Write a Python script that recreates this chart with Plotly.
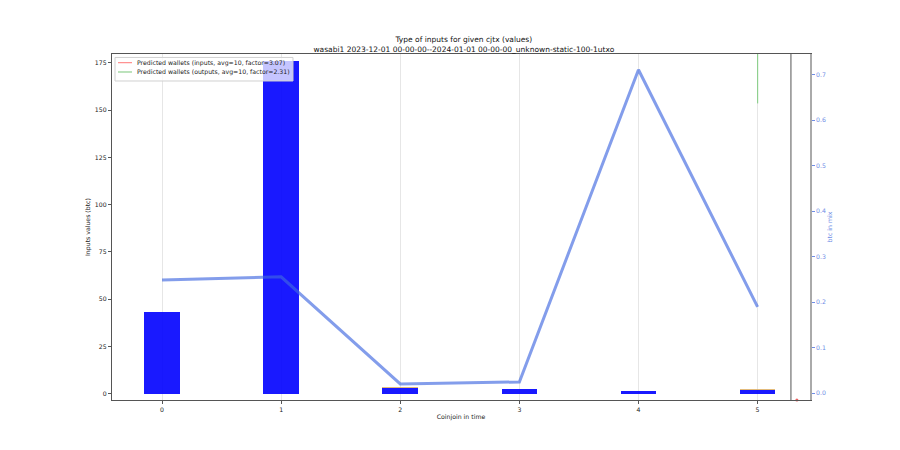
import plotly.graph_objects as go

# coinjoin index along x
coinjoins = [0, 1, 2, 3, 4, 5]
inputs_main = [43.4, 176.0, 3.2, 2.8, 1.8, 2.0]
inputs_other = [0.0, 0.0, 0.3, 0.0, 0.0, 0.6]
btc_in_mix = [0.249, 0.256, 0.0205, 0.025, 0.711, 0.190]

green_x = [5, 5]
green_y = [153.5, 182.0]
marker_x = [5.33]
marker_y = [-3.2]
boundary_x = 5.28

title_lines = ["Type of inputs for given cjtx (values)",
               "wasabi1 2023-12-01 00-00-00--2024-01-01 00-00-00_unknown-static-100-1utxo"]
legend_names = ["Predicted wallets (inputs, avg=10, factor=3.07)",
                "Predicted wallets (outputs, avg=10, factor=2.31)"]
legend_colors = ['rgba(255,0,0,0.45)', '#8fd08f']

fig = go.Figure()
fig.add_trace(go.Bar(x=coinjoins, y=inputs_main, width=0.3,
                     marker=dict(color='rgba(0,0,255,0.9)', line=dict(width=0)),
                     showlegend=False))
fig.add_trace(go.Bar(x=coinjoins, y=inputs_other, width=0.3,
                     marker=dict(color='rgba(220,170,90,0.8)', line=dict(width=0)),
                     showlegend=False))
fig.add_trace(go.Scatter(x=green_x, y=green_y, mode='lines', showlegend=False,
                         line=dict(color=legend_colors[1], width=1.2)))
fig.add_trace(go.Scatter(x=marker_x, y=marker_y, mode='markers', showlegend=False,
                         cliponaxis=False,
                         marker=dict(color='rgba(230,60,60,0.8)', size=3)))
fig.add_trace(go.Scatter(x=coinjoins, y=btc_in_mix, mode='lines', yaxis='y2',
                         showlegend=False,
                         line=dict(color='rgba(65,105,225,0.65)', width=3)))

fig.add_shape(type='line', xref='x', yref='paper', x0=boundary_x, x1=boundary_x,
              y0=0, y1=1, line=dict(color='#555555', width=1))

# legend box drawn by hand (matplotlib style, upper left)
fig.add_shape(type='rect', xref='paper', yref='paper', x0=0.0043, x1=0.2593,
              y0=0.922, y1=0.99, fillcolor='rgba(255,255,255,0.75)',
              line=dict(color='#d0d0d0', width=1))
for i, (name, col) in enumerate(zip(legend_names, legend_colors)):
    ly = 0.975 - i * 0.027
    fig.add_shape(type='line', xref='paper', yref='paper', x0=0.0086, x1=0.0287,
                  y0=ly, y1=ly, line=dict(color=col, width=1.2))
    fig.add_annotation(xref='paper', yref='paper', x=0.033, y=ly, text=name,
                       showarrow=False, xanchor='left', yanchor='middle',
                       font=dict(size=6.2, color='#222222'))

fig.update_layout(
    width=900, height=450,
    barmode='stack',
    margin=dict(l=104, r=98, t=46, b=58),
    plot_bgcolor='#ffffff',
    paper_bgcolor='#ffffff',
    font=dict(family='DejaVu Sans', size=6.2, color='#222222'),
    title=dict(text='<br>'.join(title_lines), x=0.5065, xanchor='center',
               y=0.925, yanchor='top', font=dict(size=7.5, color='#111111')),
    xaxis=dict(
        range=[-0.42, 5.44],
        tickmode='array', tickvals=coinjoins,
        showgrid=True, gridcolor='#e6e6e6', gridwidth=1,
        showline=True, linecolor='#555555', linewidth=1.2, mirror=True,
        ticks='outside', ticklen=3, tickcolor='#555555',
        zeroline=False,
        title=dict(text='Coinjoin in time', standoff=3, font=dict(size=6.2)),
    ),
    yaxis=dict(
        range=[-3.2, 179.6],
        tickvals=[0, 25, 50, 75, 100, 125, 150, 175],
        showgrid=False, zeroline=False,
        showline=True, linecolor='#555555', linewidth=1.2,
        ticks='outside', ticklen=3, tickcolor='#555555',
        title=dict(text='Inputs values (btc)', standoff=3, font=dict(size=6.2)),
    ),
    yaxis2=dict(
        overlaying='y', side='right',
        range=[-0.0147, 0.7457],
        tickvals=[0.0, 0.1, 0.2, 0.3, 0.4, 0.5, 0.6, 0.7],
        tickformat='.1f',
        showgrid=False, zeroline=False,
        showline=True, linecolor='#aaaaaa', linewidth=1.5,
        ticks='outside', ticklen=3, tickcolor='#6f8de6',
        tickfont=dict(color='#6f8de6'),
        title=dict(text='btc in mix', font=dict(color='#6f8de6', size=6.2), standoff=3),
    ),
    showlegend=False,
)

fig.write_html("out.html")
